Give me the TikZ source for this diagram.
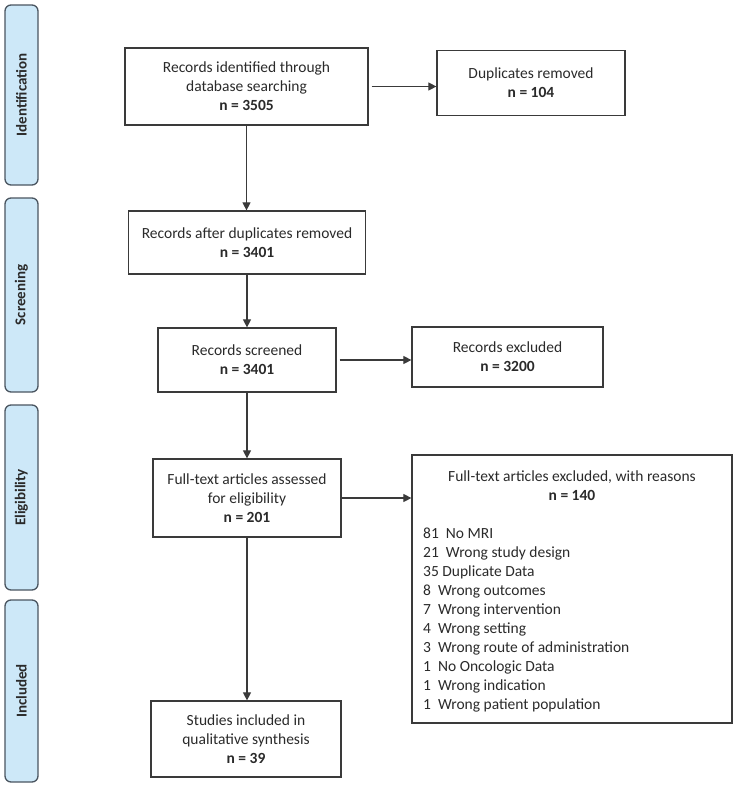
\documentclass[tikz,border=0pt]{standalone}
\usepackage{fontspec}
\setmainfont{Carlito}
\usetikzlibrary{arrows.meta}
\definecolor{barfill}{HTML}{CDE8F8}
\definecolor{barline}{HTML}{4A5560}
\definecolor{boxline}{HTML}{3A3A3A}
\definecolor{txt}{HTML}{2A2A2A}
\begin{document}
\begin{tikzpicture}[x=1pt,y=-1pt,
  phase/.style={draw=barline, fill=barfill, rounded corners=6pt, line width=1.3pt, rotate=90,
    inner sep=0pt, minimum height=33pt, text=txt, font=\fontsize{15}{17}\selectfont\bfseries},
  box/.style={draw=boxline, line width=1.2pt, inner sep=0pt, align=center, text=txt,
    font=\fontsize{15.5}{19}\selectfont},
  plain/.style={inner sep=0pt, text=txt, font=\fontsize{15.5}{19}\selectfont},
  arr/.style={draw=boxline, line width=1.1pt, -{Triangle[length=8pt,width=8pt]}}
]
\useasboundingbox (0,0) rectangle (735,787);
% phase bars
\node[phase, minimum width=180pt] (pid) at (21.5,95) {Identification};
\node[phase, minimum width=194pt] (psc) at (21.5,295) {Screening};
\node[phase, minimum width=185pt] (pel) at (21.5,497.5) {Eligibility};
\node[phase, minimum width=182pt] (pin) at (21.5,691) {Included};
% boxes
\node[box, minimum width=243pt, minimum height=77pt] (ident) at (246.5,86.5)
  {Records identified through\\database searching\\\textbf{n = 3505}};
\node[box, minimum width=188pt, minimum height=65pt] (dup) at (531,83)
  {Duplicates removed\\\textbf{n = 104}};
\node[box, minimum width=237pt, minimum height=63pt] (afterdup) at (247,242.5)
  {Records after duplicates removed\\\textbf{n = 3401}};
\node[box, minimum width=178pt, minimum height=64pt] (screened) at (247,360)
  {Records screened\\\textbf{n = 3401}};
\node[box, minimum width=191pt, minimum height=60pt] (excluded) at (507.5,357)
  {Records excluded\\\textbf{n = 3200}};
\node[box, minimum width=188pt, minimum height=78pt] (assessed) at (247,498)
  {Full-text articles assessed\\for eligibility\\\textbf{n = 201}};
\node[box, minimum width=320pt, minimum height=268pt] (big) at (572,589) {};
\node[plain, align=center] (bigtitle) at (572,486)
  {Full-text articles excluded, with reasons\\\textbf{n = 140}};
\node[plain, align=left, anchor=north west] (reasons) at (423,528)
  {81\ \ No MRI\\
   21\ \ Wrong study design\\
   35 Duplicate Data\\
   8\ \ Wrong outcomes\\
   7\ \ Wrong intervention\\
   4\ \ Wrong setting\\
   3\ \ Wrong route of administration\\
   1\ \ No Oncologic Data\\
   1\ \ Wrong indication\\
   1\ \ Wrong patient population};
\node[box, minimum width=190pt, minimum height=76pt] (studies) at (246,739)
  {Studies included in\\qualitative synthesis\\\textbf{n = 39}};
% connectors
\draw[arr] (ident.south) -- (ident.south |- afterdup.north);
\draw[arr] (afterdup.south) -- (afterdup.south |- screened.north);
\draw[arr] (screened.south) -- (screened.south |- assessed.north);
\draw[arr] (assessed.south) -- (assessed.south |- studies.north);
\draw[arr, shorten <=3pt] (ident.east) -- (ident.east -| dup.west);
\draw[arr, shorten <=3pt] (screened.east) -- (screened.east -| excluded.west);
\draw[arr] (assessed.east) -- (assessed.east -| big.west);
\end{tikzpicture}
\end{document}
